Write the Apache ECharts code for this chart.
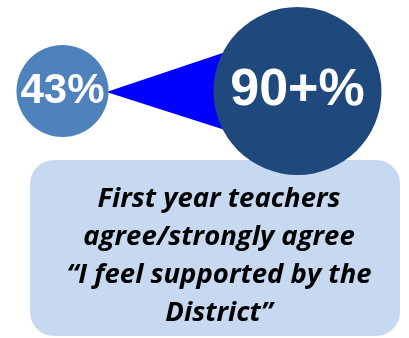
<!DOCTYPE html>
<html>
<head>
<meta charset="utf-8">
<script src="https://cdn.jsdelivr.net/npm/echarts@6/dist/echarts.min.js"></script>
<style>
  html, body { margin: 0; padding: 0; background: #ffffff; }
  #chart { width: 409px; height: 338px; }
</style>
</head>
<body>
<div id="chart"></div>
<script>
// Share of first-year teachers who feel supported: before vs. now
const categories = ['43%', '90+%'];
const values = [43, 90];
const bubbleSizes = [92, 168];
const bubbleColors = ['#4f81bd', '#1f497d'];
const captionLines = [
  'First year teachers',
  'agree/strongly agree',
  '\u201CI feel supported by the',
  'District\u201D'
];

const chart = echarts.init(document.getElementById('chart'), null, { renderer: 'canvas' });

const option = {
  animation: false,
  backgroundColor: '#ffffff',
  grid: { left: 62.5, right: 111.5, top: 0, bottom: 156, containLabel: false },
  xAxis: {
    type: 'category',
    data: categories,
    boundaryGap: false,
    show: false
  },
  yAxis: { type: 'value', min: -1, max: 1, show: false },
  graphic: [
    {
      type: 'rect',
      z: 0,
      shape: { x: 30, y: 160, width: 370, height: 176, r: 24 },
      style: { fill: '#c6d9f1' }
    },
    {
      type: 'text',
      z: 1,
      x: 219,
      y: 256,
      style: {
        text: captionLines.join('\n'),
        fill: '#000000',
        font: 'italic bold 27.5px "Open Sans", sans-serif',
        align: 'center',
        verticalAlign: 'middle',
        lineHeight: 38
      }
    }
  ],
  series: [
    {
      // wedge linking the smaller bubble to the larger one
      type: 'custom',
      z: 2,
      data: [[0, 0]],
      renderItem: function (params, api) {
        const a = api.coord([0, 0]);
        const b = api.coord([1, 0]);
        return {
          type: 'polygon',
          shape: {
            points: [
              [a[0] + 44, a[1] + 1],
              [b[0] - 60, b[1] - 43],
              [b[0] - 60, b[1] + 43]
            ]
          },
          style: { fill: '#0000ff' }
        };
      }
    },
    {
      type: 'scatter',
      z: 3,
      data: values.map(function (v, i) {
        return {
          value: [i, 0],
          symbolSize: bubbleSizes[i],
          itemStyle: { color: bubbleColors[i], opacity: 1 },
          label: {
            show: true,
            position: 'inside',
            formatter: categories[i],
            color: '#ffffff',
            fontFamily: '"Liberation Sans", Arial, sans-serif',
            fontWeight: 'bold',
            fontSize: i === 1 ? 52 : 42
          }
        };
      })
    }
  ]
};

chart.setOption(option);
</script>
</body>
</html>
